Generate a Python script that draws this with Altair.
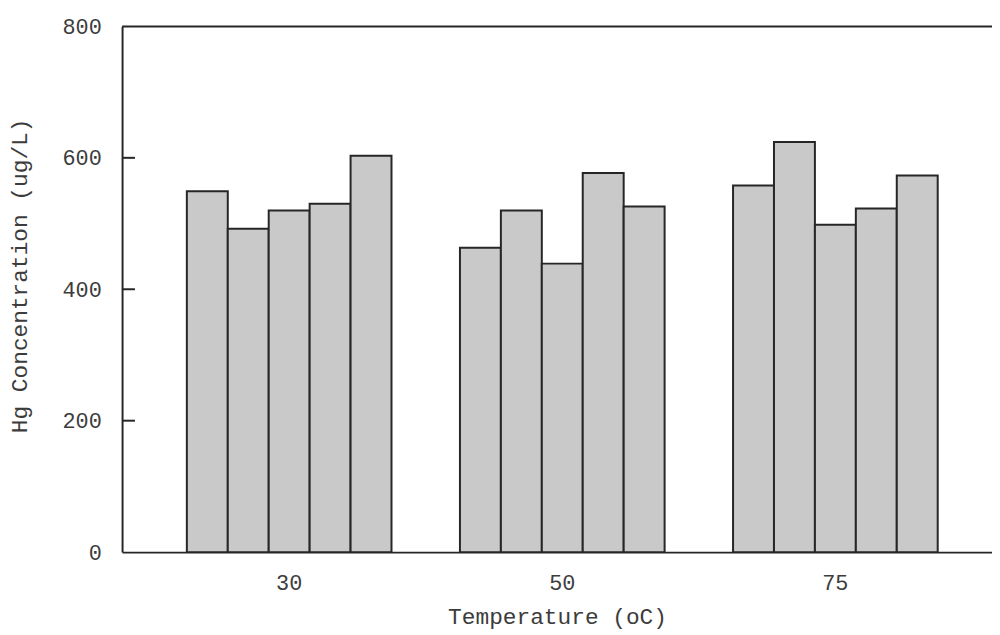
import altair as alt
import pandas as pd

temps = ["30", "50", "75"]
runs = ["1", "2", "3", "4", "5"]
values_30 = [549, 492, 520, 530, 603]
values_50 = [463, 520, 439, 577, 526]
values_75 = [558, 624, 498, 523, 573]
y_ticks = [0, 200, 400, 600, 800]
inner_ticks = [200, 400, 600]

rows = []
for t, vals in zip(temps, [values_30, values_50, values_75]):
    for r, v in zip(runs, vals):
        rows.append({"temp": t, "run": r, "hg": v})
df = pd.DataFrame(rows)

FONT = "Liberation Mono"
TXT = "#3c3c3c"
LINE = "#262626"

yscale = alt.Scale(domain=[0, 800], nice=False, zero=True)

bars = alt.Chart(df).mark_bar(
    fill="#c9c9c9", stroke=LINE, strokeWidth=2
).encode(
    x=alt.X(
        "temp:N",
        sort=temps,
        scale=alt.Scale(paddingInner=0.2506, paddingOuter=0.218, align=0.544),
        axis=alt.Axis(
            title="Temperature (oC)",
            labelAngle=0,
            tickSize=0,
            ticks=False,
            labelPadding=31,
            labelBaseline="middle",
            labelFont=FONT,
            labelFontSize=22,
            labelColor=TXT,
            titleFont=FONT,
            titleFontSize=23,
            titleFontWeight="normal",
            titleColor=TXT,
            titleY=72,
            titleBaseline="alphabetic",
            domainColor=LINE,
            domainWidth=2,
        ),
    ),
    xOffset=alt.XOffset(
        "run:N", sort=runs, scale=alt.Scale(paddingInner=0, paddingOuter=0)
    ),
    y=alt.Y(
        "hg:Q",
        scale=yscale,
        axis=alt.Axis(
            title="Hg Concentration (ug/L)",
            values=y_ticks,
            tickSize=0,
            ticks=False,
            grid=False,
            labelPadding=21,
            labelFont=FONT,
            labelFontSize=22,
            labelColor=TXT,
            titleFont=FONT,
            titleFontSize=23,
            titleFontWeight="normal",
            titleColor=TXT,
            titleAngle=270,
            titleX=-96,
            titleY=251,
            titleAlign="center",
            titleBaseline="alphabetic",
            domainColor=LINE,
            domainWidth=2,
        ),
    ),
)

tick_df = pd.DataFrame({"v": inner_ticks})
ticks = alt.Chart(tick_df).mark_rule(color=LINE, strokeWidth=2).encode(
    y=alt.Y("v:Q", scale=yscale),
    x=alt.value(0),
    x2=alt.value(13),
)

top_line = alt.Chart(pd.DataFrame({"v": [800]})).mark_rule(
    color=LINE, strokeWidth=2
).encode(y=alt.Y("v:Q", scale=yscale))

chart = alt.layer(bars, ticks, top_line).properties(
    width=877,
    height=530,
    autosize=alt.AutoSizeParams(type="none"),
    padding={"left": 115, "top": 16, "right": 0, "bottom": 80},
    background="white",
).configure_view(stroke=None)

chart.save("out.html", embed_options={"renderer": "svg", "actions": False})
